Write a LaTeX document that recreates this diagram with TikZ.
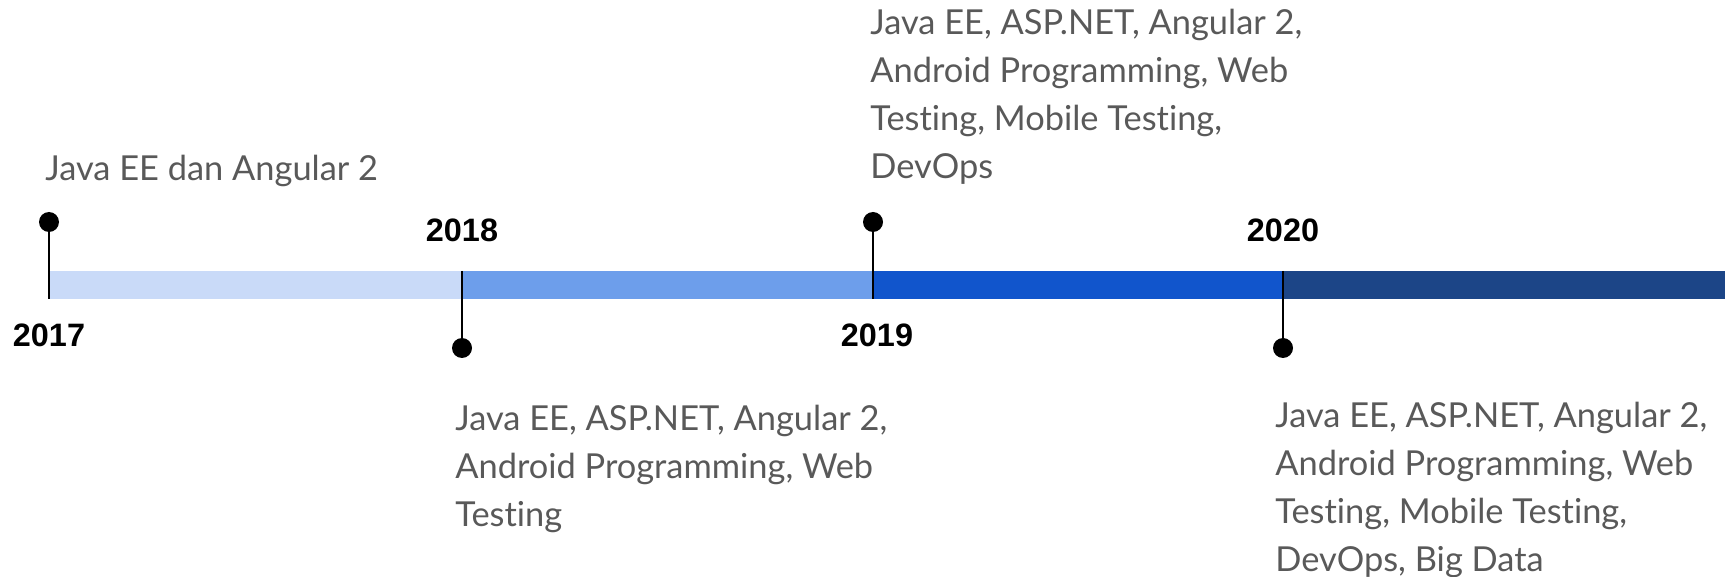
\documentclass[tikz,border=0pt]{standalone}
\usepackage{fontspec}
\setmainfont{Lato}[Ligatures=NoCommon]
\newfontfamily\yearfont{Liberation Sans}
\usetikzlibrary{positioning}
\definecolor{seg1}{HTML}{C9DAF8}
\definecolor{seg2}{HTML}{6D9EEB}
\definecolor{seg3}{HTML}{1155CC}
\definecolor{seg4}{HTML}{1C4587}
\definecolor{descgray}{HTML}{595959}

\begin{document}
\begin{tikzpicture}[x=0.5pt,y=-0.5pt,
    dot/.style={circle,fill=black,inner sep=0pt,minimum size=10pt},
    year/.style={font=\yearfont\bfseries\fontsize{16.2}{18}\selectfont,inner sep=0pt,anchor=base},
    desc/.style={font=\fontsize{17.2}{24}\selectfont,text=descgray,align=left,inner sep=0pt,anchor=base west}]
            \useasboundingbox (0,0) rectangle (1725,577);
            % bar
            \fill[seg1] (49,271) rectangle (462,299);
            \fill[seg2] (462,271) rectangle (873,299);
            \fill[seg3] (873,271) rectangle (1283,299);
            \fill[seg4] (1283,271) rectangle (1725,299);
            \coordinate (b17) at (49,299);
            \coordinate (b18) at (462,271);
            \coordinate (b19) at (873,299);
            \coordinate (b20) at (1283,271);
            % pins
            \node[dot] (p17) at (49,222) {};
            \node[dot] (p18) at (462,348) {};
            \node[dot] (p19) at (873,222) {};
            \node[dot] (p20) at (1283,348) {};
            \draw[line width=1pt] (p17.center) -- (b17);
            \draw[line width=1pt] (b18) -- (p18.center);
            \draw[line width=1pt] (p19.center) -- (b19);
            \draw[line width=1pt] (b20) -- (p20.center);
            % years
            \node[year] (y17) at (49,347) {2017};
            \node[year] (y18) at (462,242) {2018};
            \node[year] (y19) at (877,347) {2019};
            \node[year] (y20) at (1283,242) {2020};
            % texts (placed at the baseline of their last line)
            \node[desc] (d17) at (45,181) {Java EE dan Angular 2};
            \node[desc] (d18) at (455,526) {Java EE, ASP.NET, Angular 2,\\Android Programming, Web\\Testing};
            \node[desc] (d19) at (870,179) {Java EE, ASP.NET, Angular 2,\\Android Programming, Web\\Testing, Mobile Testing,\\DevOps};
            \node[desc] (d20) at (1275,571) {Java EE, ASP.NET, Angular 2,\\Android Programming, Web\\Testing, Mobile Testing,\\DevOps, Big Data};
\end{tikzpicture}
\end{document}
